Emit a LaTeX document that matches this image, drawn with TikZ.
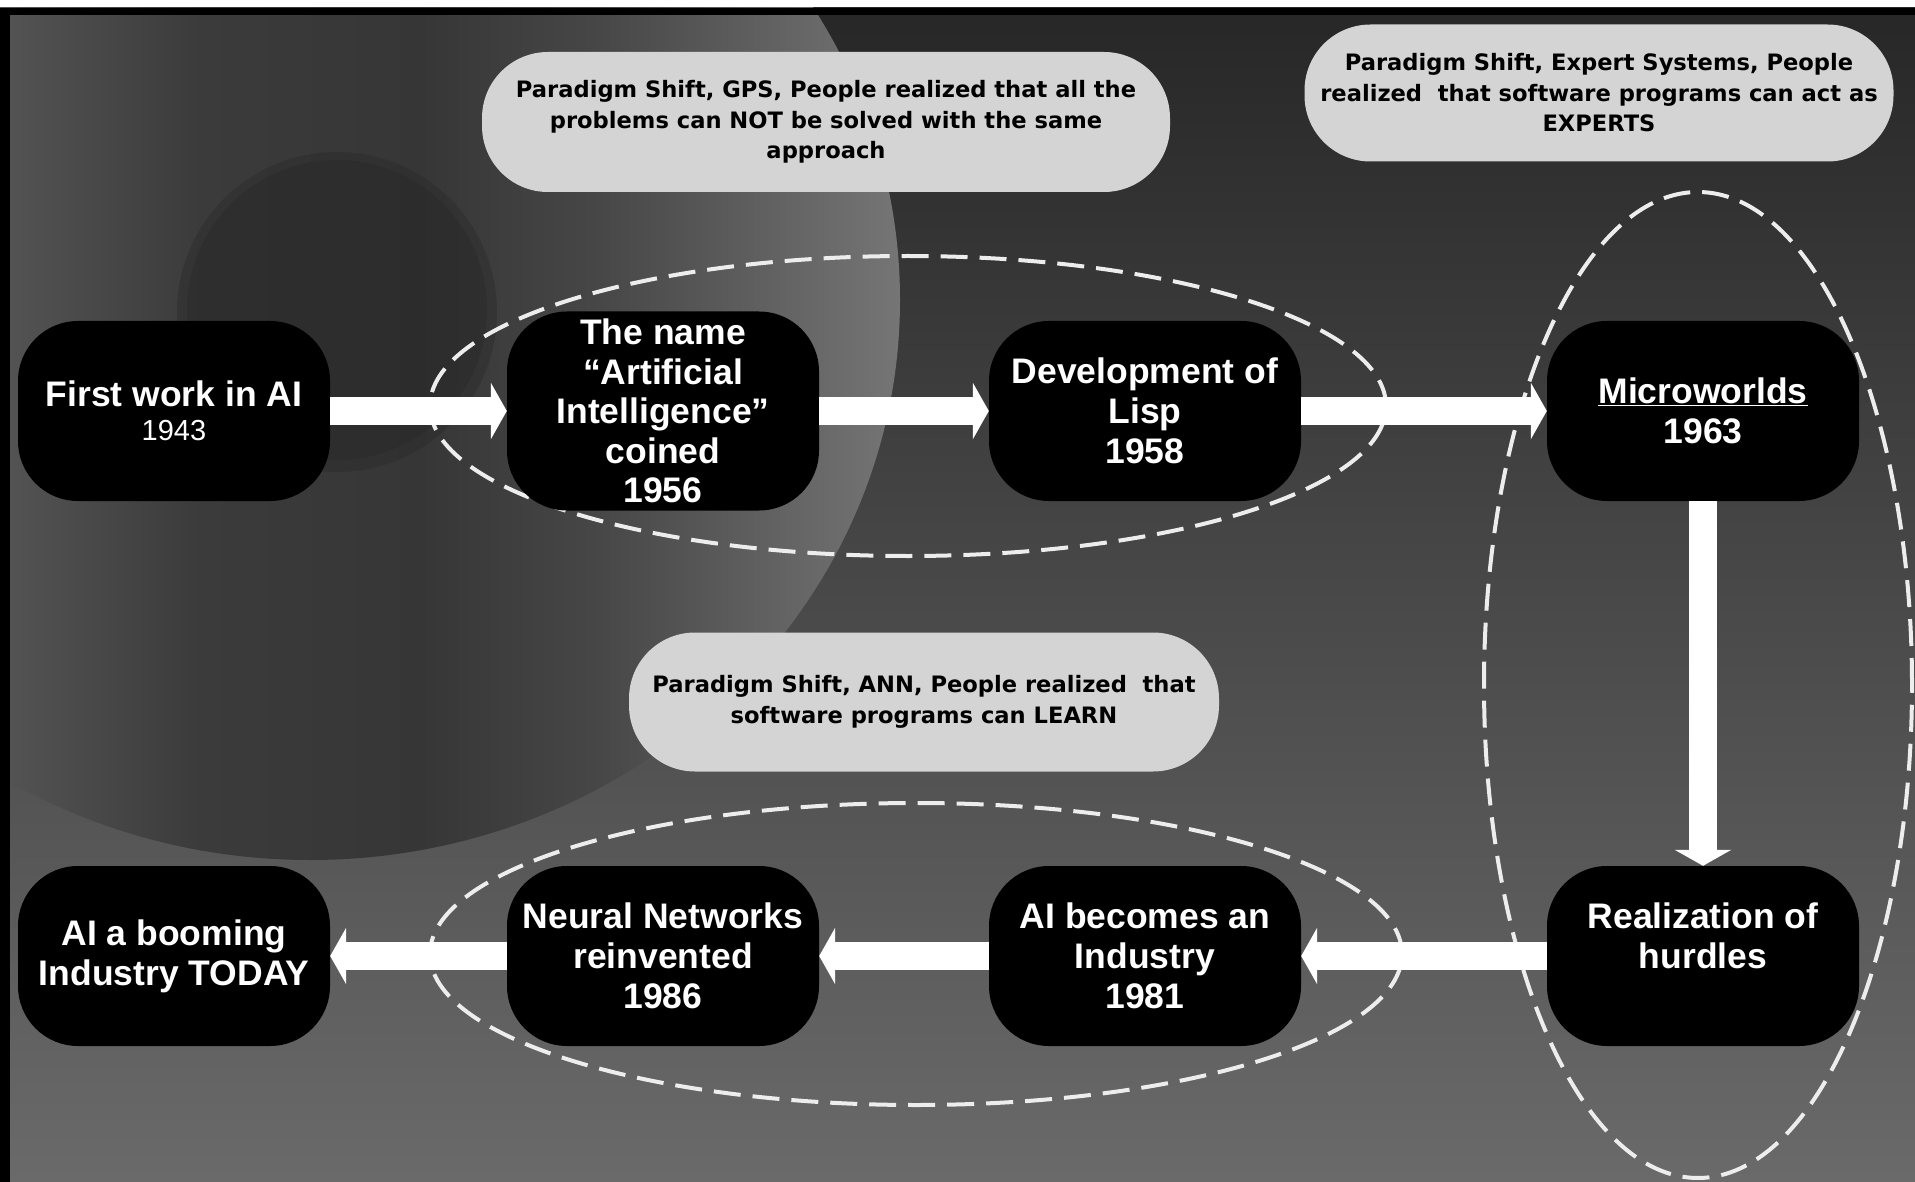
\documentclass[tikz,border=0pt]{standalone}
\usepackage{fontspec}
\setmainfont{Liberation Sans}
\newfontfamily\notefont{DejaVu Sans}
\usetikzlibrary{arrows.meta}
\definecolor{notegrey}{HTML}{D4D4D4}
\definecolor{bgtop}{HTML}{272727}
\definecolor{bgbot}{HTML}{6A6A6A}
\definecolor{ringA}{HTML}{545454}
\definecolor{ringB}{HTML}{3B3B3B}
\definecolor{ringC}{HTML}{363636}
\definecolor{ringD}{HTML}{474747}
\definecolor{ringE}{HTML}{5E5E5E}
\definecolor{ringF}{HTML}{767676}
\definecolor{innerdark}{HTML}{262626}
\definecolor{dashcol}{HTML}{EDEDED}
\begin{document}
\begin{tikzpicture}[x=1pt,y=-1pt,
  event/.style={fill=black, rounded corners=60pt, minimum width=312pt, minimum height=180pt,
    inner sep=0pt, text=white, align=center, font=\fontsize{35.5}{40}\selectfont\bfseries},
  note/.style={fill=notegrey, rounded corners=66pt, inner sep=0pt, text=black, align=center,
    font=\notefont\fontsize{22.6}{30.5}\selectfont\bfseries},
  flow/.style={draw=white, line width=28pt, -{Triangle[width=56pt,length=16pt]}},
  group/.style={draw=dashcol, line width=4pt, dash pattern=on 27pt off 12pt}
]
\useasboundingbox (0,0) rectangle (1915,1182);
% ---------- background ----------
\fill[white] (0,0) rectangle (1915,1182);
\shade[top color=bgtop, bottom color=bgbot] (0,8) rectangle (1915,1182);
\begin{scope}
  \clip (0,8) rectangle (1915,1182);
  \clip (310,300) ellipse [x radius=590pt, y radius=560pt];
  \shade[left color=ringA, right color=ringB] (-1,0) rectangle (201,900);
  \shade[left color=ringB, right color=ringC] (200,0) rectangle (421,900);
  \shade[left color=ringC, right color=ringD] (420,0) rectangle (601,900);
  \shade[left color=ringD, right color=ringE] (600,0) rectangle (751,900);
  \shade[left color=ringE, right color=ringF] (750,0) rectangle (905,900);
  \fill[innerdark, opacity=0.35] (337,312) circle [radius=160pt];
  \fill[innerdark, opacity=0.35] (337,310) circle [radius=150pt];
\end{scope}
\fill[black] (0,8) rectangle (1915,15);
\fill[black] (0,8) rectangle (10,1182);
% ---------- grouping ellipses ----------
\draw[group] (908,406) ellipse [x radius=478pt, y radius=150pt];
\draw[group] (916,954) ellipse [x radius=486pt, y radius=151pt];
\draw[group] (1698,685) ellipse [x radius=214pt, y radius=493pt];
% ---------- events ----------
\node[event] (n1) at (174,411) {First work in AI\\[-6pt]{\fontsize{29}{34}\selectfont\mdseries 1943}};
\node[event, minimum height=199pt, font=\fontsize{35.5}{39.5}\selectfont\bfseries] (n2) at (663,411)
  {The name\\“Artificial\\Intelligence”\\coined\\1956};
\node[event] (n3) at (1145,411) {Development of\\Lisp\\1958};
\node[event] (n4) at (1703,411) {\underline{Microworlds}\\1963};
\node[event] (n5) at (1703,956) {Realization of\\hurdles\\\mbox{}};
\node[event] (n6) at (1145,956) {AI becomes an\\Industry\\1981};
\node[event] (n7) at (663,956) {Neural Networks\\reinvented\\1986};
\node[event] (n8) at (174,956) {AI a booming\\Industry TODAY};
% ---------- flow arrows ----------
\draw[flow] (n1.east) -- (n2.west);
\draw[flow] (n2.east) -- (n3.west);
\draw[flow] (n3.east) -- (n4.west);
\draw[flow] (n4.south) -- (n5.north);
\draw[flow] (n5.west) -- (n6.east);
\draw[flow] (n6.west) -- (n7.east);
\draw[flow] (n7.west) -- (n8.east);
% ---------- paradigm-shift notes ----------
\node[note, minimum width=688pt, minimum height=140pt] (c1) at (826,122)
  {Paradigm Shift, GPS, People realized that all the\\problems can NOT be solved with the same\\approach};
\node[note, minimum width=589pt, minimum height=137pt] (c2) at (1599,93)
  {Paradigm Shift, Expert Systems, People\\realized\ \ that software programs can act as\\EXPERTS};
\node[note, minimum width=590pt, minimum height=139pt] (c3) at (924,702)
  {Paradigm Shift, ANN, People realized\ \ that\\software programs can LEARN};
\end{tikzpicture}
\end{document}
